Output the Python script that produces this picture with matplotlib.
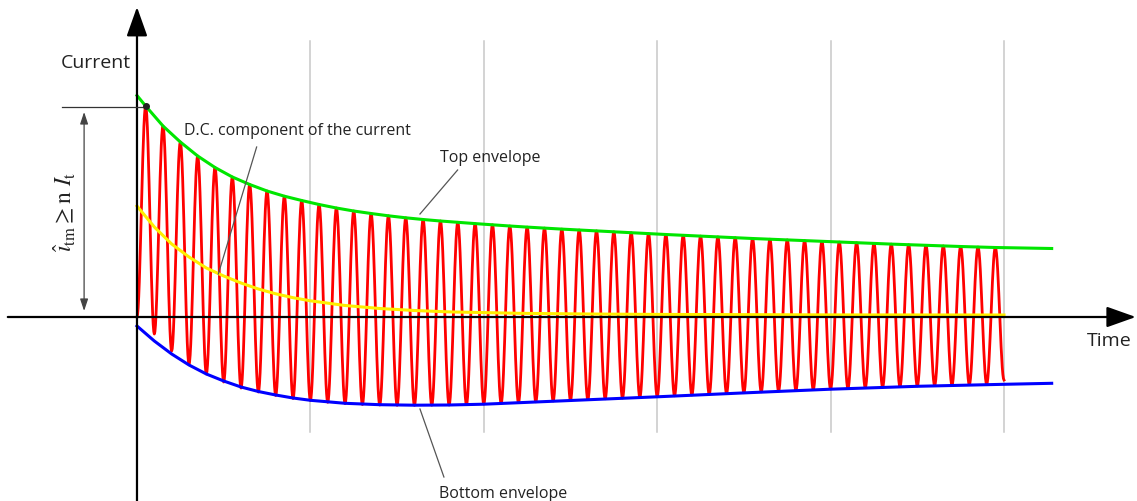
import numpy as np
import matplotlib.pyplot as plt

plt.rcParams['font.family'] = ['Open Sans', 'DejaVu Sans']
plt.rcParams['mathtext.fontset'] = 'stix'

# time is counted in cycles of the supply frequency, current in arbitrary units
# current peaks at t = 0.5, 1.5, ... 49.5
peak_vals = [211, 191, 175, 161, 149.5, 140, 132.5, 126, 120.8, 116.5,
             112.5, 109, 106, 103.5, 101.2, 99.2, 97.5, 96, 94.7, 93.4,
             92.2, 91, 89.9, 88.9, 87.9, 87, 86.1, 85.2, 84.3, 83.4,
             82.5, 81.7, 80.9, 80.1, 79.3, 78.5, 77.8, 77.1, 76.4, 75.7,
             75, 74.3, 73.6, 72.9, 72.3, 71.7, 71.1, 70.5, 70, 69.5]
# current troughs at t = 1, 2, ... 50
trough_vals = [-17, -34, -47, -57, -65, -71, -75, -78.5, -81.5, -83.5,
               -85.3, -86.6, -87.5, -88, -88.3, -88.3, -88.2, -88, -87.6, -87,
               -86.3, -85.6, -84.8, -84, -83.3, -82.6, -81.8, -81, -80.3, -79.6,
               -78.8, -78, -77.3, -76.5, -75.7, -74.8, -74, -73.3, -72.6, -72,
               -71.3, -70.7, -70.1, -69.5, -69, -68.5, -68, -67.6, -67.2, -63]

# top envelope: start value, then the peaks, then the far end
top_start = 221.5
top_end_t, top_end = 52.75, 68.5

# bottom envelope
bot_t = [0, 1, 2, 3, 4, 5, 6, 7, 8, 9, 10, 12, 14, 16, 18, 20, 25, 30, 35, 40, 45, 50, 52.75]
bot_v = [-9, -24, -37, -48, -57, -64, -70, -74.5, -78, -81, -83.3, -86.3, -87.7, -88.2, -88, -87.2,
         -83.5, -79.8, -75.9, -72.2, -69.3, -67.3, -66.3]

# d.c. component
dc_t = [0, 1, 2, 3, 4, 5, 6, 7, 8, 9, 10, 12, 14, 16, 18, 22, 26, 30, 40, 50]
dc_v = [111, 90, 73, 60, 49, 41, 34, 28, 23.2, 19.3, 16.2, 11.5, 8.5, 6.5, 5.1, 3.7, 3, 2.6, 2.1, 2]

grid_t = [10, 20, 30, 40, 50]

n_cyc = len(peak_vals)
peak_t = np.arange(n_cyc) + 0.5

# extremes in time order: start at zero, then peak / trough alternately
ext_t = np.arange(2 * n_cyc + 1) * 0.5
ext_v = np.zeros(len(ext_t))
ext_v[1::2] = peak_vals
ext_v[2::2] = trough_vals

# half-cosine between neighbouring extremes
s = np.linspace(0, 1, 16)[:-1]
w = (1 - np.cos(np.pi * s)) / 2
red_t = np.concatenate([a + (b - a) * s for a, b in zip(ext_t[:-1], ext_t[1:])] + [ext_t[-1:]])
red_v = np.concatenate([a + (b - a) * w for a, b in zip(ext_v[:-1], ext_v[1:])] + [ext_v[-1:]])

top_t = np.concatenate([[0], peak_t, [top_end_t]])
top_v = np.concatenate([[top_start], peak_vals, [top_end]])

fig = plt.figure(figsize=(11.37, 5.02), dpi=100)
ax = fig.add_axes([0, 0, 1, 1])
ax.set_xlim(-7.90, 57.67)
ax.set_ylim(-184, 318)
ax.axis('off')

for g in grid_t:
    ax.plot([g, g], [-115, 276], color='#c8c8c8', lw=1.1, zorder=1)

ax.plot(red_t, red_v, color='#ff0000', lw=2.0, zorder=2)
ax.plot(top_t, top_v, color='#00e600', lw=2.2, zorder=3)
ax.plot(bot_t, bot_v, color='#0000ff', lw=2.2, zorder=3)
ax.plot(dc_t, dc_v, color='#ffee00', lw=2.2, zorder=4)

# axes with arrow heads
arrow = dict(arrowstyle='-|>,head_length=0.9,head_width=0.32', mutation_scale=20,
             lw=1.6, color='black', shrinkA=0, shrinkB=0)
ax.annotate('', xy=(0, 310), xytext=(0, -184), arrowprops=arrow, zorder=5)
ax.annotate('', xy=(57.6, 0), xytext=(-7.45, 0), arrowprops=arrow, zorder=5)

# first peak marker and its dimension arrow
ax.plot([-4.3, 0.5], [210.5, 210.5], color='#333333', lw=0.9, zorder=5)
ax.plot([0.5], [peak_vals[0]], 'o', color='#222222', ms=4, zorder=6)
ax.annotate('', xy=(-3.05, 205), xytext=(-3.05, 6),
            arrowprops=dict(arrowstyle='<|-|>,head_length=0.6,head_width=0.2', mutation_scale=12,
                            lw=0.9, color='#444444', shrinkA=0, shrinkB=0))
ax.text(-4.1, 106, r'$\hat{\imath}_{\mathrm{tm}} \geq \mathrm{n}\ I_{\mathrm{t}}$',
        rotation=90, ha='center', va='center', fontsize=17, color='#222222')

txt = dict(color='#222222', va='baseline')
ax.text(-4.38, 250, 'Current', fontsize=14, **txt)
ax.text(54.77, -27.7, 'Time', fontsize=14, **txt)
ax.text(2.71, 183, 'D.C. component of the current', fontsize=11.5, **txt)
ax.text(17.47, 156.3, 'Top envelope', fontsize=11.5, **txt)
ax.text(17.43, -180, 'Bottom envelope', fontsize=11.5, **txt)

lead = dict(color='#555555', lw=0.9, zorder=6)
ax.plot([6.9, 4.69], [170, 43], **lead)
ax.plot([18.49, 16.32], [147, 103], **lead)
ax.plot([16.32, 17.7], [-92, -160], **lead)

fig.savefig('out.png', dpi=100)
